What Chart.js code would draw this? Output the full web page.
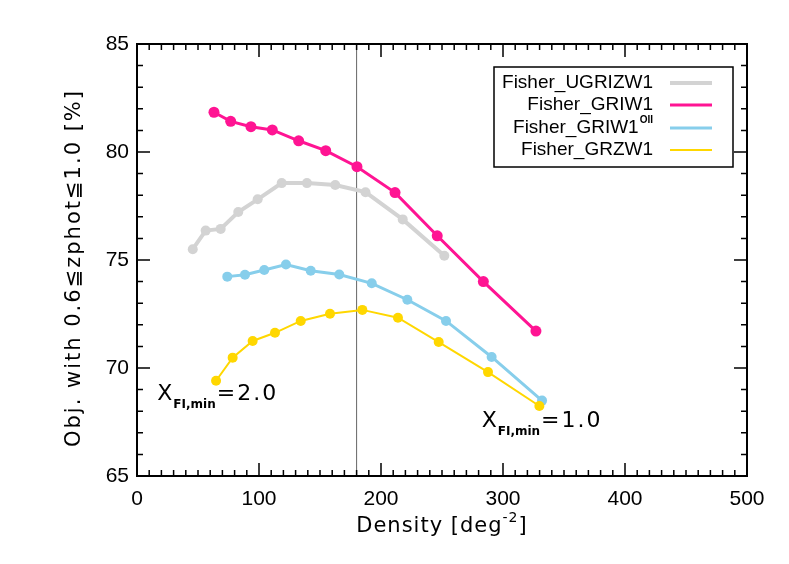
<!DOCTYPE html>
<html>
<head>
<meta charset="utf-8">
<script src="https://cdn.jsdelivr.net/npm/chart.js@4"></script>
<style>
  html, body { margin: 0; padding: 0; background: #fff; }
  #wrap { width: 789px; height: 564px; }
</style>
</head>
<body>
<div id="wrap"><canvas id="chart" width="789" height="564"></canvas></div>
<script>
// ============================================
// Data
// ============================================
const ugrizDensity = [45.7, 56.3, 68.6, 83.0, 98.9, 118.6, 139.3, 162.5, 187.3, 217.8, 251.9];
const ugrizFrac    = [75.50, 76.36, 76.44, 77.22, 77.81, 78.56, 78.56, 78.47, 78.14, 76.88, 75.20];

const griDensity = [63.1, 76.8, 93.4, 110.9, 132.5, 154.7, 180.3, 211.5, 246.1, 283.9, 327.0];
const griFrac    = [81.84, 81.42, 81.17, 81.02, 80.52, 80.06, 79.32, 78.12, 76.12, 74.00, 71.71];

const griOiiDensity = [74.0, 88.5, 104.3, 122.1, 142.4, 165.8, 192.4, 221.6, 253.3, 290.7, 332.0];
const griOiiFrac    = [74.23, 74.32, 74.54, 74.79, 74.50, 74.33, 73.92, 73.16, 72.18, 70.51, 68.49];

const grzDensity = [64.8, 78.4, 94.8, 113.1, 134.2, 158.2, 184.7, 213.9, 247.3, 287.7, 329.8];
const grzFrac    = [69.41, 70.48, 71.25, 71.63, 72.18, 72.51, 72.69, 72.33, 71.20, 69.81, 68.24];

const seriesLabels = ['Fisher_UGRIZW1', 'Fisher_GRIW1', 'Fisher_GRIW1', 'Fisher_GRZW1'];
const seriesSup    = ['', '', 'OII', ''];
const seriesColors = ['#d3d3d3', '#ff1493', '#87ceeb', '#ffd700'];
const seriesWidths = [4, 3, 3, 2];

const xTicks = [0, 100, 200, 300, 400, 500];
const yTicks = [65, 70, 75, 80, 85];
const refDensity = 180;

const FONT = "'Liberation Sans', Arial, sans-serif";
const WIDE = "'DejaVu Sans', sans-serif";

function toPoints(xs, ys) {
    return xs.map((x, i) => ({ x: x, y: ys[i] }));
}

// ============================================
// Frame, inward ticks, reference line, legend, notes, titles
// ============================================
const decorPlugin = {
    id: 'decor',
    beforeDatasetsDraw(chart) {
        const { ctx, chartArea: a, scales: { x } } = chart;
        const px = x.getPixelForValue(refDensity);
        ctx.save();
        ctx.strokeStyle = '#666';
        ctx.lineWidth = 1;
        ctx.beginPath();
        ctx.moveTo(px, a.top);
        ctx.lineTo(px, a.bottom);
        ctx.stroke();
        ctx.restore();
    },
    afterDatasetsDraw(chart) {
        const { ctx, chartArea: a, scales: { x, y } } = chart;
        ctx.save();
        ctx.strokeStyle = '#000';
        ctx.lineWidth = 2;
        ctx.strokeRect(a.left, a.top, a.right - a.left, a.bottom - a.top);

        // x ticks, minor every 10
        ctx.lineWidth = 1.5;
        for (let v = 0; v <= 500; v += 10) {
            const px = x.getPixelForValue(v);
            const len = v % 100 === 0 ? 13 : 6;
            ctx.beginPath();
            ctx.moveTo(px, a.bottom); ctx.lineTo(px, a.bottom - len);
            ctx.moveTo(px, a.top); ctx.lineTo(px, a.top + len);
            ctx.stroke();
        }
        // y ticks, minor every 1
        for (let v = 65; v <= 85; v += 1) {
            const py = y.getPixelForValue(v);
            const len = v % 5 === 0 ? 13 : 6;
            ctx.beginPath();
            ctx.moveTo(a.left, py); ctx.lineTo(a.left + len, py);
            ctx.moveTo(a.right, py); ctx.lineTo(a.right - len, py);
            ctx.stroke();
        }

        // Legend box
        const bx = 494, by = 67, bw = 239, bh = 100;
        ctx.fillStyle = '#fff';
        ctx.fillRect(bx, by, bw, bh);
        ctx.lineWidth = 1.5;
        ctx.strokeRect(bx, by, bw, bh);
        const rows = [83, 105, 128, 150];
        ctx.textBaseline = 'middle';
        seriesLabels.forEach((lab, i) => {
            const ty = rows[i];
            const right = 653;
            ctx.fillStyle = '#000';
            ctx.textAlign = 'right';
            if (seriesSup[i]) {
                ctx.font = `bold 10px ${FONT}`;
                const sw = ctx.measureText(seriesSup[i]).width;
                ctx.fillText(seriesSup[i], right, ty - 8);
                ctx.font = `19px ${FONT}`;
                ctx.fillText(lab, right - sw - 1, ty);
            } else {
                ctx.font = `19px ${FONT}`;
                ctx.fillText(lab, right, ty);
            }
            ctx.strokeStyle = seriesColors[i];
            ctx.lineWidth = seriesWidths[i];
            ctx.beginPath();
            ctx.moveTo(670, ty); ctx.lineTo(712, ty);
            ctx.stroke();
        });

        // X_FI,min notes
        const notes = [
            { x: 16.6, y: 68.52, val: '2.0' },
            { x: 282.5, y: 67.28, val: '1.0' }
        ];
        ctx.fillStyle = '#000';
        ctx.textAlign = 'left';
        ctx.textBaseline = 'alphabetic';
        notes.forEach(n => {
            let px = x.getPixelForValue(n.x);
            const py = y.getPixelForValue(n.y);
            ctx.font = `22px ${WIDE}`;
            ctx.fillText('X', px, py);
            px += ctx.measureText('X').width + 1;
            ctx.font = `bold 12px ${WIDE}`;
            ctx.fillText('FI,min', px, py + 8);
            px += ctx.measureText('FI,min').width + 1;
            ctx.font = `22px ${WIDE}`;
            ctx.letterSpacing = '2px';
            ctx.fillText('=' + n.val, px, py);
            ctx.letterSpacing = '0px';
        });

        // Axis titles
        ctx.letterSpacing = '1px';
        ctx.font = `21px ${WIDE}`;
        ctx.textBaseline = 'middle';
        const xt = 'Density [deg', xsup = '-2', xend = ']';
        const w1 = ctx.measureText(xt).width;
        ctx.font = `14px ${WIDE}`;
        const w2 = ctx.measureText(xsup).width;
        ctx.font = `21px ${WIDE}`;
        const w3 = ctx.measureText(xend).width;
        let tx = (a.left + a.right) / 2 - (w1 + w2 + w3) / 2;
        const ty = 527;
        ctx.fillText(xt, tx, ty);
        tx += w1;
        ctx.font = `14px ${WIDE}`;
        ctx.fillText(xsup, tx, ty - 9);
        tx += w2;
        ctx.font = `21px ${WIDE}`;
        ctx.fillText(xend, tx, ty);

        ctx.translate(75, 268);
        ctx.rotate(-Math.PI / 2);
        ctx.textAlign = 'center';
        ctx.letterSpacing = '2px';
        ctx.font = `21px ${WIDE}`;
        ctx.fillText('Obj. with 0.6≦zphot≦1.0 [%]', 0, 0);
        ctx.restore();
    }
};

// ============================================
// Build chart
// ============================================
const datasetDefs = [
    { data: toPoints(ugrizDensity, ugrizFrac), r: 5, order: 4 },
    { data: toPoints(griDensity, griFrac), r: 5.5, order: 3 },
    { data: toPoints(griOiiDensity, griOiiFrac), r: 5, order: 2 },
    { data: toPoints(grzDensity, grzFrac), r: 5, order: 1 }
];

const ctx = document.getElementById('chart').getContext('2d');
new Chart(ctx, {
    type: 'line',
    data: {
        datasets: datasetDefs.map((d, i) => ({
            label: seriesLabels[i] + seriesSup[i],
            data: d.data,
            borderColor: seriesColors[i],
            backgroundColor: seriesColors[i],
            pointBackgroundColor: seriesColors[i],
            pointBorderWidth: 0,
            pointRadius: d.r,
            borderWidth: seriesWidths[i],
            tension: 0,
            order: d.order
        }))
    },
    options: {
        responsive: false,
        animation: false,
        events: [],
        layout: { padding: { left: 0, right: 42, top: 44, bottom: 0 } },
        plugins: {
            legend: { display: false },
            tooltip: { enabled: false }
        },
        scales: {
            x: {
                type: 'linear',
                min: 0, max: 500,
                afterFit: s => { s.height = 88; },
                afterBuildTicks: s => { s.ticks = xTicks.map(v => ({ value: v })); },
                grid: { display: false, drawTicks: false },
                border: { display: false },
                ticks: {
                    color: '#000',
                    font: { family: FONT, size: 21 },
                    padding: 11,
                    maxRotation: 0
                }
            },
            y: {
                type: 'linear',
                min: 65, max: 85,
                afterFit: s => { s.width = 137; },
                afterBuildTicks: s => { s.ticks = yTicks.map(v => ({ value: v })); },
                grid: { display: false, drawTicks: false },
                border: { display: false },
                ticks: {
                    color: '#000',
                    font: { family: FONT, size: 21 },
                    padding: 8
                }
            }
        }
    },
    plugins: [decorPlugin]
});
</script>
</body>
</html>
